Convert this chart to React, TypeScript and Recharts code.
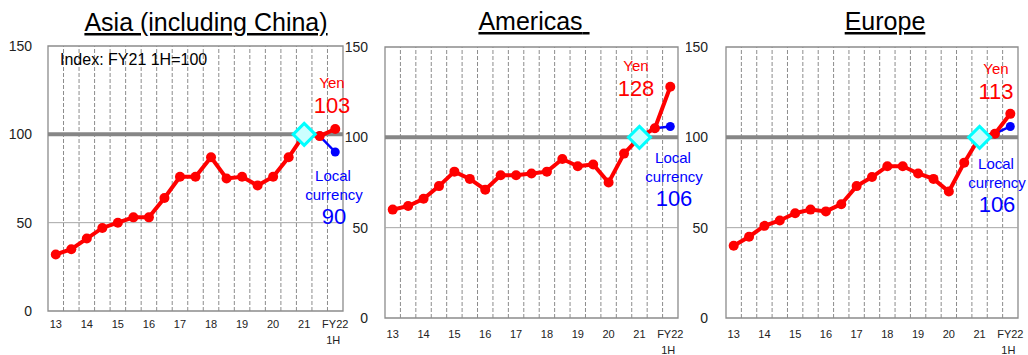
import React from 'react';
import {
    LineChart,
    Line,
    XAxis,
    YAxis,
    ReferenceLine,
    ReferenceArea,
    ReferenceDot,
} from 'recharts';

// half-year periods, FY13 1H .. FY22 1H
const periods = [
    '13 1H', '13 2H', '14 1H', '14 2H', '15 1H', '15 2H', '16 1H', '16 2H',
    '17 1H', '17 2H', '18 1H', '18 2H', '19 1H', '19 2H', '20 1H', '20 2H',
    '21 1H', '21 2H', 'FY22 1H',
];
const yearLabels = ['13', '14', '15', '16', '17', '18', '19', '20', '21', 'FY22'];
const yTicks = [0, 50, 100, 150];

// index base: FY21 1H = 100
const baseIndex = 16;
const baseValue = 100;
// local currency series starts at FY21 2H
const localStart = 17;

const asiaYen = [32, 35, 41, 47, 50, 53, 53, 64, 76, 76, 87, 75, 76, 71, 76, 87, 100, 99, 103];
const asiaLocal = [99, 90];

const americasYen = [60, 62, 66, 73, 81, 77, 71, 79, 79, 80, 81, 88, 84, 85, 75, 91, 100, 105, 128];
const americasLocal = [105, 106];

const europeYen = [40, 45, 51, 54, 58, 60, 59, 63, 73, 78, 84, 84, 80, 77, 70, 86, 100, 102, 113];
const europeLocal = [102, 106];

const FONT = '"Liberation Sans", Arial, sans-serif';
const RED = '#ff0000';
const BLUE = '#0000ff';
const GRID = '#8c8c8c';

const buildRows = (yen: number[], local: number[]) =>
    periods.map((p, i) => ({
        i,
        period: p,
        yen: yen[i],
        local: i >= localStart ? local[i - localStart] : null,
    }));

const xTicks = yearLabels.map((_, k) => k * 2);
const bandEdges = periods.slice(1).map((_, i) => i + 0.5);

const XTick = (props: any) => {
    const { x, y, payload } = props;
    const label = yearLabels[Math.round(payload.value / 2)];
    if (label === 'FY22') {
        return (
            <text x={x} y={y} dy="0.71em" textAnchor="middle" fontSize={11} fill="#222" fontFamily={FONT}>
                <tspan x={x}>FY22</tspan>
                <tspan x={x - 2} dy={16}>1H</tspan>
            </text>
        );
    }
    return (
        <text x={x} y={y} dy="0.71em" textAnchor="middle" fontSize={11} fill="#222" fontFamily={FONT}>
            {label}
        </text>
    );
};

const Diamond = (props: any) => {
    const { cx, cy } = props;
    const h = 11;
    return (
        <polygon
            points={`${cx},${cy - h} ${cx + h},${cy} ${cx},${cy + h} ${cx - h},${cy}`}
            fill="#ccffff"
            stroke="#00ffff"
            strokeWidth={3}
        />
    );
};

interface PanelProps {
    yen: number[];
    local: number[];
    left: number;
    right: number;
    top: number;
    bottom: number;
    yGap: number;
    xGap: number;
}

const Panel: React.FC<PanelProps> = ({ yen, local, left, right, top, bottom, yGap, xGap }) => {
    const axisW = 40;
    const axisH = 44;
    const padR = 14;
    const data = buildRows(yen, local);
    return (
        <div style={{ position: 'absolute', left: left - axisW, top: 0 }}>
            <LineChart
                width={axisW + (right - left) + padR}
                height={bottom + axisH}
                data={data}
                margin={{ top, right: padR, left: 0, bottom: 0 }}
            >
                <XAxis
                    dataKey="i"
                    type="number"
                    domain={[-0.5, 18.5]}
                    ticks={xTicks}
                    tick={<XTick />}
                    tickLine={false}
                    tickSize={0}
                    tickMargin={xGap}
                    axisLine={false}
                    height={axisH}
                    interval={0}
                />
                <YAxis
                    type="number"
                    domain={[0, 150]}
                    ticks={yTicks}
                    tick={{ fontSize: 14, fill: '#222', fontFamily: FONT }}
                    tickLine={false}
                    tickSize={0}
                    tickMargin={yGap}
                    axisLine={false}
                    width={axisW}
                    interval={0}
                />
                {bandEdges.map((b) => (
                    <ReferenceLine key={b} x={b} stroke={GRID} strokeWidth={1} strokeDasharray="4 2" />
                ))}
                <ReferenceLine y={50} stroke="#a6a6a6" strokeWidth={1} />
                <ReferenceArea x1={-0.5} x2={18.5} y1={0} y2={150} fill="none" stroke={GRID} strokeWidth={1.3} />
                <ReferenceLine y={baseValue} stroke="#868686" strokeWidth={4} />
                <Line
                    dataKey="local"
                    stroke={BLUE}
                    strokeWidth={2.5}
                    dot={{ r: 4.5, fill: BLUE, stroke: BLUE, strokeWidth: 0 }}
                    activeDot={false}
                    isAnimationActive={false}
                />
                <Line
                    dataKey="yen"
                    stroke={RED}
                    strokeWidth={4}
                    dot={{ r: 5, fill: RED, stroke: RED, strokeWidth: 0 }}
                    activeDot={false}
                    isAnimationActive={false}
                />
                <ReferenceDot x={baseIndex} y={baseValue} r={11} shape={<Diamond />} />
            </LineChart>
        </div>
    );
};

interface NoteProps {
    x: number;
    y: number;
    yen: number[];
    lx: number;
    ly: number;
    local: number[];
}

// "Yen nnn" and "Local currency nnn" callouts for the latest period
const Notes: React.FC<NoteProps> = ({ x, y, yen, lx, ly, local }) => (
    <g fontFamily={FONT} textAnchor="middle">
        <text x={x} y={y} fontSize={15} fill={RED}>Yen</text>
        <text x={x} y={y + 25} fontSize={22} fill={RED}>{yen[yen.length - 1]}</text>
        <text x={lx} y={ly} fontSize={15} fill={BLUE}>Local</text>
        <text x={lx + 1} y={ly + 19} fontSize={15} fill={BLUE}>currency</text>
        <text x={lx + 1} y={ly + 43} fontSize={22} fill={BLUE}>{local[local.length - 1]}</text>
    </g>
);

export default function App() {
    return (
        <div style={{ position: 'absolute', left: 0, top: 0, width: 1028, height: 355, background: '#fff', overflow: 'hidden' }}>
            <Panel yen={asiaYen} local={asiaLocal} left={48} right={343} top={46} bottom={311} yGap={16} xGap={9} />
            <Panel yen={americasYen} local={americasLocal} left={385} right={678} top={47} bottom={318} yGap={17} xGap={12} />
            <Panel yen={europeYen} local={europeLocal} left={726} right={1018} top={47} bottom={318} yGap={18} xGap={12} />
            <svg width={1028} height={355} style={{ position: 'absolute', left: 0, top: 0, pointerEvents: 'none' }}>
                <g fontFamily={FONT} textAnchor="middle" fill="#000" fontSize={25} textDecoration="underline">
                    <text x={206} y={31}>Asia (including China)</text>
                    <text x={534} y={30}>Americas{'\u00a0'}</text>
                    <text x={885} y={30}>Europe</text>
                </g>
                <text x={60} y={65} fontFamily={FONT} fontSize={16} fill="#000">Index: FY21 1H=100</text>
                <Notes x={332} y={88} yen={asiaYen} lx={333} ly={181} local={asiaLocal} />
                <Notes x={636} y={71} yen={americasYen} lx={673} ly={163} local={americasLocal} />
                <Notes x={996} y={74} yen={europeYen} lx={996} ly={169} local={europeLocal} />
            </svg>
        </div>
    );
}
